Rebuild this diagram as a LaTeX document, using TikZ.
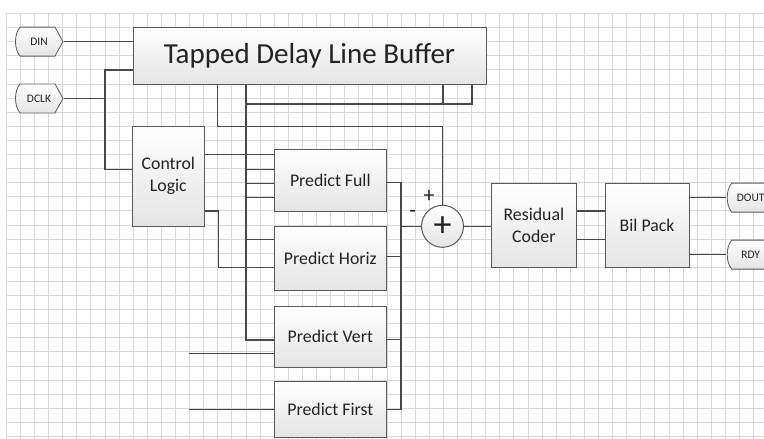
\documentclass[tikz,border=0pt]{standalone}
\usepackage{fontspec}
\setmainfont{Carlito}
\definecolor{boxc}{RGB}{90,90,90}
\definecolor{wirec}{RGB}{72,72,72}
\definecolor{txt}{RGB}{35,35,35}
\definecolor{gridc}{RGB}{218,218,218}
\definecolor{fillb}{RGB}{228,228,228}
\tikzset{
  box/.style={draw=boxc, line width=1pt, top color=white, bottom color=fillb, text=txt,
    font=\fontsize{17.8}{22}\selectfont, align=center, inner sep=0pt},
  pbox/.style={box, minimum width=112.7pt},
  wire/.style={draw=wirec, line width=1.2pt},
  bus/.style={draw=wirec, line width=2.2pt},
  sign/.style={text=txt, inner sep=0pt, font=\fontsize{22}{22}\selectfont},
  tagnode/.style={minimum width=50pt, minimum height=31pt, inner sep=0pt, text=txt,
    font=\fontsize{11.5}{12}\selectfont,
    path picture={
      \shadedraw[top color=white, bottom color=fillb, draw=boxc, line width=0.8pt]
        ([shift={(6pt,-1pt)}]path picture bounding box.north west)
        -- ([shift={(-9pt,-1pt)}]path picture bounding box.north east)
        -- ([xshift=-1pt]path picture bounding box.east)
        -- ([shift={(-9pt,1pt)}]path picture bounding box.south east)
        -- ([shift={(6pt,1pt)}]path picture bounding box.south west)
        .. controls ([shift={(0pt,8pt)}]path picture bounding box.south west)
        and ([shift={(0pt,-8pt)}]path picture bounding box.north west) .. cycle;
    }},
}
\begin{document}
\begin{tikzpicture}[x=1pt,y=-1pt]
\useasboundingbox (0,0) rectangle (764,439);
\clip (0,0) rectangle (764,439);
\fill[white] (0,0) rectangle (764,439);
% grid
\foreach \i in {0,...,53} \draw[gridc, line width=0.6pt] ({6.1+14.1*\i},13.3) -- ({6.1+14.1*\i},439);
\foreach \j in {0,...,30} \draw[gridc, line width=0.6pt] (6.1,{13.3+14.1*\j}) -- (764,{13.3+14.1*\j});

% nodes
\node[box, minimum width=353pt, minimum height=56.7pt, font=\fontsize{29}{34}\selectfont] (buf) at (309.5,55.65) {Tapped Delay Line Buffer};
\node[box, minimum width=71.3pt, minimum height=100pt] (ctrl) at (168.35,176) {Control\\Logic};
\node[pbox, minimum height=62pt] (pfull) at (330.35,180) {Predict Full};
\node[pbox, minimum height=64pt] (phoriz) at (330.35,258.7) {Predict Horiz};
\node[pbox, minimum height=61.7pt] (pvert) at (330.35,336.85) {Predict Vert};
\node[pbox, minimum height=55.8pt] (pfirst) at (330.35,409.6) {Predict First};
\node[circle, draw=boxc, line width=1pt, top color=white, bottom color=fillb, minimum size=42pt,
  inner sep=0pt, text=txt, font=\fontsize{36}{36}\selectfont] (sum) at (442.5,226.3) {+};
\node[box, minimum width=84.3pt, minimum height=84.4pt] (res) at (533.85,225.5) {Residual\\Coder};
\node[box, minimum width=84.3pt, minimum height=84.4pt] (bil) at (647.15,225.5) {Bil Pack};
\node[tagnode] (din) at (39,41.6) {DIN};
\node[tagnode] (dclk) at (39,98.4) {DCLK};
\node[tagnode] (dout) at (750.7,197.6) {DOUT};
\node[tagnode] (rdy) at (750.7,254.6) {RDY};
\node[sign] (minus) at (412.7,213.5) {-};
\node[sign] (plus) at (429,196.5) {+};

% coordinates
\coordinate (dclkj) at (105,98.4);
\coordinate (bx) at (245.7,0);
\coordinate (cx) at (401,0);
\coordinate (la) at (443,104);
\coordinate (lb) at (471.7,104);
\coordinate (pa) at (217.7,126.7);
\coordinate (in1) at (189.3,353.3);
\coordinate (in2) at (189.3,409.3);

% connectors
\draw[wire] (din.east) -- (din.east -| buf.west);
\draw[wire] (dclk.east) -- (dclkj);
\draw[wire] ([yshift=-14.3pt]buf.west) -| (dclkj) |- ([yshift=6.7pt]ctrl.west);
\draw[wire] ([yshift=21.7pt]ctrl.east) -- ([yshift=21.7pt]ctrl.east -| pfull.west);
\draw[wire] ([yshift=-35pt]ctrl.east) -- ++(13.7,0) |- ([yshift=-9pt]phoriz.west);
\foreach \s in {10.7,-3.3,-17.3}
  \draw[wire] ([yshift=\s pt]pfull.west -| bx) -- ([yshift=\s pt]pfull.west);
\draw[wire] ([yshift=19.4pt]phoriz.west -| bx) -- ([yshift=19.4pt]phoriz.west);
\draw[bus] (buf.south -| bx) |- ([yshift=-3.15pt]pvert.west);
\draw[bus] (bx |- la) -- (lb) -- (lb |- buf.south);
\draw[bus] (la) -- (la |- buf.south);
\draw[wire] (pa |- buf.south) -- (pa) -| (sum.north);
\draw[wire] ([yshift=-2.7pt]pfull.east) -- ([yshift=-2.7pt]pfull.east -| cx) -- (pfirst.east -| cx) -- (pfirst.east);
\draw[wire] ([yshift=2pt]phoriz.east) -- ([yshift=2pt]phoriz.east -| cx);
\draw[wire] ([yshift=-2.45pt]pvert.east) -- ([yshift=-2.45pt]pvert.east -| cx);
\draw[wire] (sum.west -| cx) -- (sum.west);
\draw[wire] (sum.east) -- (sum.east -| res.west);
\draw[wire] ([yshift=14.5pt]res.east) -- ([yshift=14.5pt]res.east -| bil.west);
\draw[wire] ([yshift=-13.8pt]res.east) -- ([yshift=-13.8pt]res.east -| bil.west);
\draw[wire] (bil.east |- dout.west) -- (dout.west);
\draw[wire] (bil.east |- rdy.west) -- (rdy.west);
\draw[wire] (in1) -- (in1 -| pvert.west);
\draw[wire] (in2) -- (in2 -| pfirst.west);
\end{tikzpicture}
\end{document}
